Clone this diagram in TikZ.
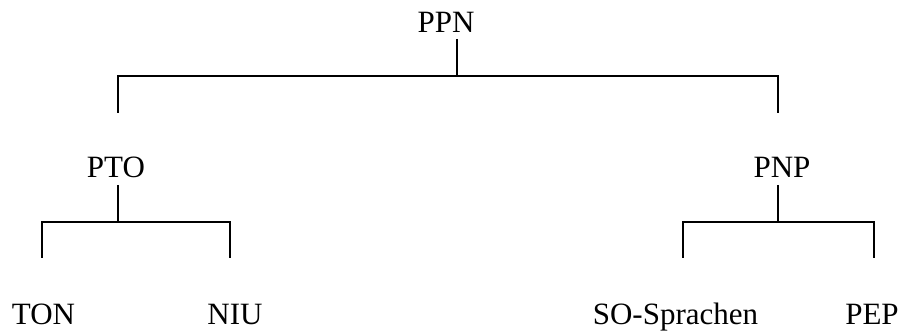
\documentclass[tikz,border=0pt]{standalone}
\usepackage{fontspec}
\setmainfont{Liberation Serif}
\begin{document}
\begin{tikzpicture}[x=1pt,y=-1pt,
  label/.style={anchor=base,inner sep=0pt,font=\fontsize{31}{37}\selectfont},
  branch/.style={line width=2.6pt,line cap=butt,line join=miter}]
\useasboundingbox (0,0) rectangle (903,331);
% labels
\node[label] (ppn) at (446,33) {PPN};
\node[label] (pto) at (116,178) {PTO};
\node[label] (pnp) at (782,178) {PNP};
\node[label] (ton) at (43.5,325) {TON};
\node[label] (niu) at (235,325) {NIU};
\node[label] (so)  at (675.5,325) {SO-Sprachen};
\node[label] (pep) at (872,325) {PEP};
% junction points
\coordinate (r0) at (457,39);   \coordinate (r1) at (457,76);
\coordinate (a0) at (118,76);   \coordinate (a1) at (118,113);
\coordinate (b0) at (778,76);   \coordinate (b1) at (778,113);
\coordinate (p0) at (118,185);  \coordinate (p1) at (118,222);
\coordinate (t0) at (42,222);   \coordinate (t1) at (42,258);
\coordinate (n0) at (230,222);  \coordinate (n1) at (230,258);
\coordinate (q0) at (778,185);  \coordinate (q1) at (778,222);
\coordinate (s0) at (683,222);  \coordinate (s1) at (683,258);
\coordinate (e0) at (874,222);  \coordinate (e1) at (874,258);
% branches
\draw[branch] (r0) -- (r1);
\draw[branch] (a1) -- (a0) -- (b0) -- (b1);
\draw[branch] (p0) -- (p1);
\draw[branch] (t1) -- (t0) -- (n0) -- (n1);
\draw[branch] (q0) -- (q1);
\draw[branch] (s1) -- (s0) -- (e0) -- (e1);
\end{tikzpicture}
\end{document}
